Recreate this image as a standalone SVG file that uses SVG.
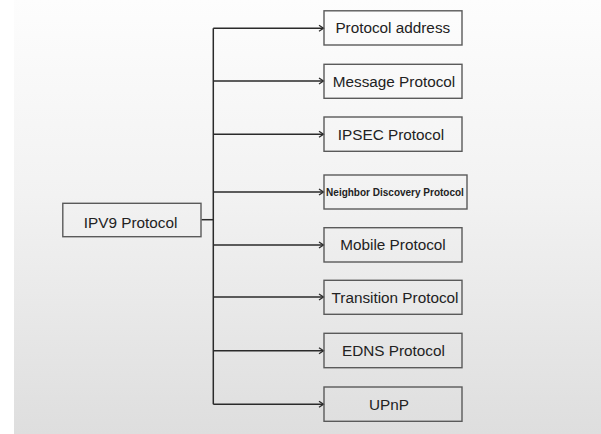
<svg xmlns="http://www.w3.org/2000/svg" width="601" height="434" viewBox="0 0 601 434">
  <defs>
    <linearGradient id="bg" x1="0" y1="0" x2="0" y2="1">
      <stop offset="0" stop-color="#fdfdfd"/>
      <stop offset="0.45" stop-color="#f2f2f2"/>
      <stop offset="1" stop-color="#dedede"/>
    </linearGradient>
    <marker id="arr" markerWidth="8" markerHeight="8" refX="6" refY="4" orient="auto" markerUnits="userSpaceOnUse">
      <path d="M1.5,1 L6,4 L1.5,7" fill="none" stroke="#2a2a2a" stroke-width="1.3"/>
    </marker>
    <style>
      .box { fill: none; stroke: #5a5a5a; stroke-width: 1.4; }
      .lbl { font-family: "Liberation Sans", Arial, sans-serif; font-size: 15.3px; fill: #222; text-anchor: middle; }
      .small { font-size: 10px; font-weight: bold; }
      .conn { fill: none; stroke: #2a2a2a; stroke-width: 1.5; }
    </style>
  </defs>
  <rect x="0" y="0" width="601" height="434" fill="#ffffff"/>
  <rect x="14" y="0" width="587" height="434" fill="url(#bg)"/>

  <g id="connectors">
    <path class="conn" d="M201.5,219.7 H213.3"/>
    <path class="conn" d="M213.3,28.3 V404.3"/>
    <path class="conn" d="M213.3,28.3 H323.5" marker-end="url(#arr)"/>
    <path class="conn" d="M213.3,81 H323.5" marker-end="url(#arr)"/>
    <path class="conn" d="M213.3,134.3 H323.5" marker-end="url(#arr)"/>
    <path class="conn" d="M213.3,192 H323.5" marker-end="url(#arr)"/>
    <path class="conn" d="M213.3,245 H323.5" marker-end="url(#arr)"/>
    <path class="conn" d="M213.3,297 H323.5" marker-end="url(#arr)"/>
    <path class="conn" d="M213.3,350.7 H323.5" marker-end="url(#arr)"/>
    <path class="conn" d="M213.3,404.3 H323.5" marker-end="url(#arr)"/>
  </g>

  <g id="ipv9">
    <rect class="box" x="62.8" y="203.3" width="138.2" height="33.4"/>
    <text class="lbl" x="130.6" y="227.6">IPV9 Protocol</text>
  </g>
  <g id="protocol-address">
    <rect class="box" x="324" y="10.8" width="138" height="34.2"/>
    <text class="lbl" x="392.8" y="33.3">Protocol address</text>
  </g>
  <g id="message-protocol">
    <rect class="box" x="324" y="64.3" width="138" height="34"/>
    <text class="lbl" x="394" y="86.8">Message Protocol</text>
  </g>
  <g id="ipsec-protocol">
    <rect class="box" x="324" y="117" width="138" height="34.3"/>
    <text class="lbl" x="391" y="139.7">IPSEC Protocol</text>
  </g>
  <g id="neighbor-discovery">
    <rect class="box" x="324" y="175" width="143" height="34"/>
    <text class="lbl small" x="395" y="195.6">Neighbor Discovery Protocol</text>
  </g>
  <g id="mobile-protocol">
    <rect class="box" x="324" y="227.7" width="138" height="34.3"/>
    <text class="lbl" x="393" y="250.3">Mobile Protocol</text>
  </g>
  <g id="transition-protocol">
    <rect class="box" x="324" y="280.3" width="138" height="34"/>
    <text class="lbl" x="395" y="302.8">Transition Protocol</text>
  </g>
  <g id="edns-protocol">
    <rect class="box" x="324" y="333.3" width="138" height="34.4"/>
    <text class="lbl" x="393.4" y="356">EDNS Protocol</text>
  </g>
  <g id="upnp">
    <rect class="box" x="324" y="387" width="138" height="34.3"/>
    <text class="lbl" x="389" y="409.6">UPnP</text>
  </g>
</svg>
